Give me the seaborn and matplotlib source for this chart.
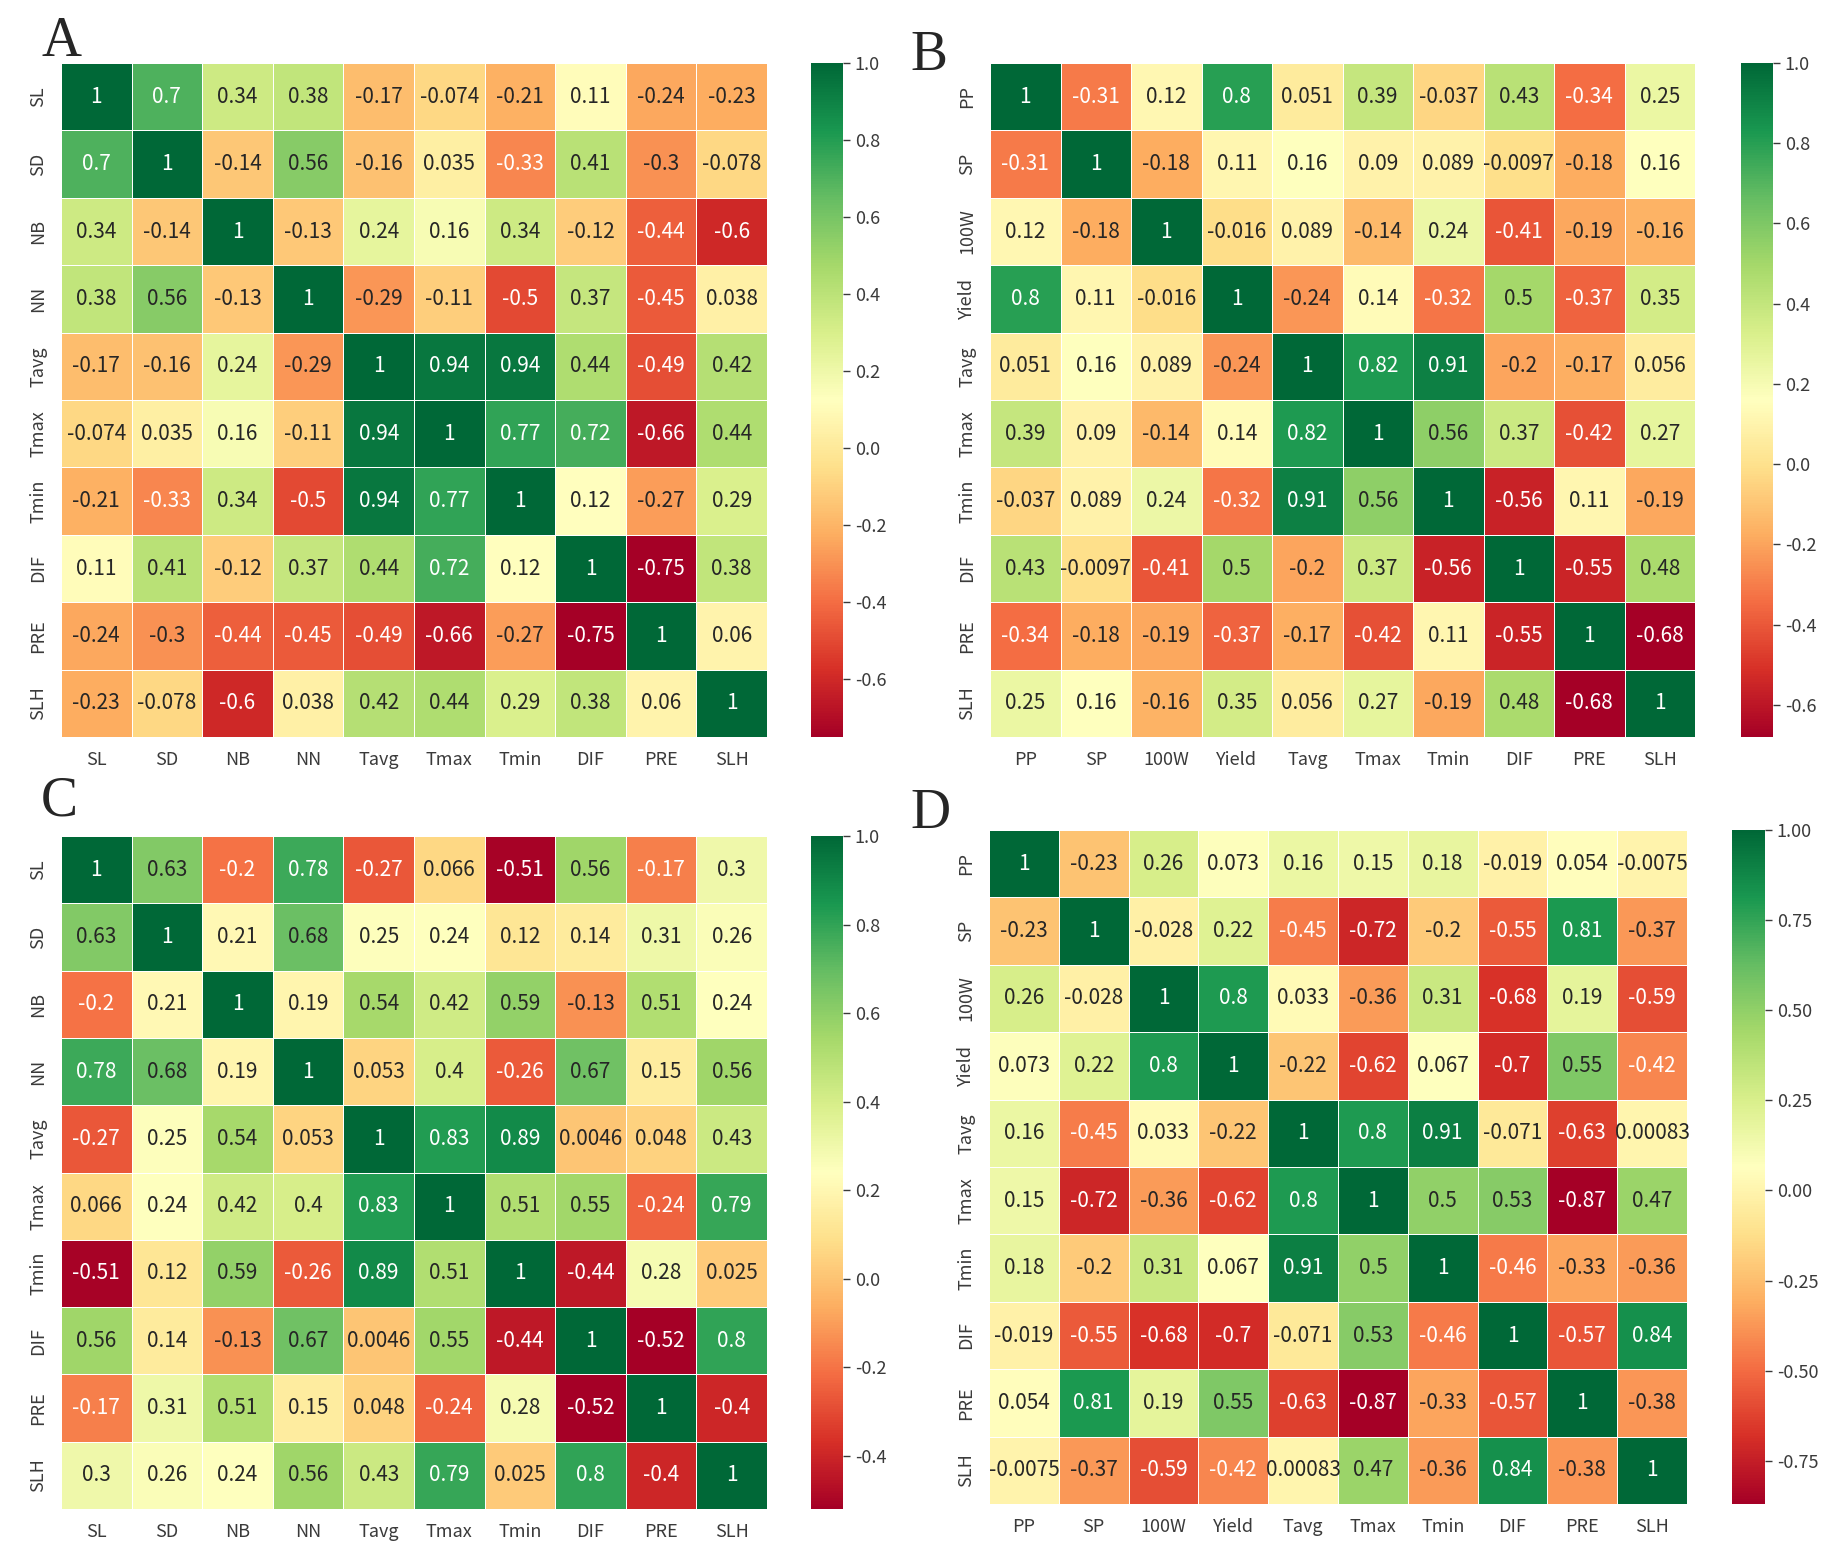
import numpy as np
import pandas as pd
import seaborn as sns
import matplotlib.pyplot as plt

# variable names
labels_ac = ['SL', 'SD', 'NB', 'NN', 'Tavg', 'Tmax', 'Tmin', 'DIF', 'PRE', 'SLH']
labels_bd = ['PP', 'SP', '100W', 'Yield', 'Tavg', 'Tmax', 'Tmin', 'DIF', 'PRE', 'SLH']

# correlation matrices
corr_a = [
    [1, 0.7, 0.34, 0.38, -0.17, -0.074, -0.21, 0.11, -0.24, -0.23],
    [0.7, 1, -0.14, 0.56, -0.16, 0.035, -0.33, 0.41, -0.3, -0.078],
    [0.34, -0.14, 1, -0.13, 0.24, 0.16, 0.34, -0.12, -0.44, -0.6],
    [0.38, 0.56, -0.13, 1, -0.29, -0.11, -0.5, 0.37, -0.45, 0.038],
    [-0.17, -0.16, 0.24, -0.29, 1, 0.94, 0.94, 0.44, -0.49, 0.42],
    [-0.074, 0.035, 0.16, -0.11, 0.94, 1, 0.77, 0.72, -0.66, 0.44],
    [-0.21, -0.33, 0.34, -0.5, 0.94, 0.77, 1, 0.12, -0.27, 0.29],
    [0.11, 0.41, -0.12, 0.37, 0.44, 0.72, 0.12, 1, -0.75, 0.38],
    [-0.24, -0.3, -0.44, -0.45, -0.49, -0.66, -0.27, -0.75, 1, 0.06],
    [-0.23, -0.078, -0.6, 0.038, 0.42, 0.44, 0.29, 0.38, 0.06, 1],
]

corr_b = [
    [1, -0.31, 0.12, 0.8, 0.051, 0.39, -0.037, 0.43, -0.34, 0.25],
    [-0.31, 1, -0.18, 0.11, 0.16, 0.09, 0.089, -0.0097, -0.18, 0.16],
    [0.12, -0.18, 1, -0.016, 0.089, -0.14, 0.24, -0.41, -0.19, -0.16],
    [0.8, 0.11, -0.016, 1, -0.24, 0.14, -0.32, 0.5, -0.37, 0.35],
    [0.051, 0.16, 0.089, -0.24, 1, 0.82, 0.91, -0.2, -0.17, 0.056],
    [0.39, 0.09, -0.14, 0.14, 0.82, 1, 0.56, 0.37, -0.42, 0.27],
    [-0.037, 0.089, 0.24, -0.32, 0.91, 0.56, 1, -0.56, 0.11, -0.19],
    [0.43, -0.0097, -0.41, 0.5, -0.2, 0.37, -0.56, 1, -0.55, 0.48],
    [-0.34, -0.18, -0.19, -0.37, -0.17, -0.42, 0.11, -0.55, 1, -0.68],
    [0.25, 0.16, -0.16, 0.35, 0.056, 0.27, -0.19, 0.48, -0.68, 1],
]

corr_c = [
    [1, 0.63, -0.2, 0.78, -0.27, 0.066, -0.51, 0.56, -0.17, 0.3],
    [0.63, 1, 0.21, 0.68, 0.25, 0.24, 0.12, 0.14, 0.31, 0.26],
    [-0.2, 0.21, 1, 0.19, 0.54, 0.42, 0.59, -0.13, 0.51, 0.24],
    [0.78, 0.68, 0.19, 1, 0.053, 0.4, -0.26, 0.67, 0.15, 0.56],
    [-0.27, 0.25, 0.54, 0.053, 1, 0.83, 0.89, 0.0046, 0.048, 0.43],
    [0.066, 0.24, 0.42, 0.4, 0.83, 1, 0.51, 0.55, -0.24, 0.79],
    [-0.51, 0.12, 0.59, -0.26, 0.89, 0.51, 1, -0.44, 0.28, 0.025],
    [0.56, 0.14, -0.13, 0.67, 0.0046, 0.55, -0.44, 1, -0.52, 0.8],
    [-0.17, 0.31, 0.51, 0.15, 0.048, -0.24, 0.28, -0.52, 1, -0.4],
    [0.3, 0.26, 0.24, 0.56, 0.43, 0.79, 0.025, 0.8, -0.4, 1],
]

corr_d = [
    [1, -0.23, 0.26, 0.073, 0.16, 0.15, 0.18, -0.019, 0.054, -0.0075],
    [-0.23, 1, -0.028, 0.22, -0.45, -0.72, -0.2, -0.55, 0.81, -0.37],
    [0.26, -0.028, 1, 0.8, 0.033, -0.36, 0.31, -0.68, 0.19, -0.59],
    [0.073, 0.22, 0.8, 1, -0.22, -0.62, 0.067, -0.7, 0.55, -0.42],
    [0.16, -0.45, 0.033, -0.22, 1, 0.8, 0.91, -0.071, -0.63, 0.00083],
    [0.15, -0.72, -0.36, -0.62, 0.8, 1, 0.5, 0.53, -0.87, 0.47],
    [0.18, -0.2, 0.31, 0.067, 0.91, 0.5, 1, -0.46, -0.33, -0.36],
    [-0.019, -0.55, -0.68, -0.7, -0.071, 0.53, -0.46, 1, -0.57, 0.84],
    [0.054, 0.81, 0.19, 0.55, -0.63, -0.87, -0.33, -0.57, 1, -0.38],
    [-0.0075, -0.37, -0.59, -0.42, 0.00083, 0.47, -0.36, 0.84, -0.38, 1],
]

sns.set_theme(style='white')
plt.rcParams['font.family'] = ['Noto Sans CJK KR', 'DejaVu Sans']
plt.rcParams['axes.unicode_minus'] = False

W, H = 1841, 1562
fig = plt.figure(figsize=(W / 100, H / 100), dpi=100)


def box(x0, y0, x1, y1):
    # pixel box (top-left origin) -> figure fraction
    return [x0 / W, 1 - y1 / H, (x1 - x0) / W, (y1 - y0) / H]


panels = [
    ('A', corr_a, labels_ac, (61, 63, 767, 737), (811, 843), (41, 56)),
    ('B', corr_b, labels_bd, (990, 63, 1695, 737), (1741, 1773), (910, 70)),
    ('C', corr_c, labels_ac, (61, 836, 767, 1509), (811, 843), (41, 816)),
    ('D', corr_d, labels_bd, (989, 830, 1687, 1504), (1732, 1765), (910, 828)),
]

for name, mat, labs, hm, cb, lab_pos in panels:
    df = pd.DataFrame(mat, index=labs, columns=labs)
    ax = fig.add_axes(box(*hm))
    cax = fig.add_axes(box(cb[0], hm[1], cb[1], hm[3]))
    sns.heatmap(df, annot=True, cmap='RdYlGn', linewidths=0.5, linecolor='white',
                ax=ax, cbar_ax=cax, annot_kws={'fontsize': 15})
    ax.tick_params(length=0, labelsize=13, colors='#3a3a3a', pad=10)
    ax.set_yticklabels(labs, rotation=90, va='center')
    ax.set_xticklabels(labs, rotation=0)
    cax.tick_params(length=5, width=1, labelsize=13, colors='#3a3a3a')
    for s in cax.spines.values():
        s.set_visible(False)
    fig.text(lab_pos[0] / W, 1 - lab_pos[1] / H, name, fontsize=40,
             family='Liberation Serif', va='baseline', ha='left')

fig.savefig('out.png', dpi=100)
